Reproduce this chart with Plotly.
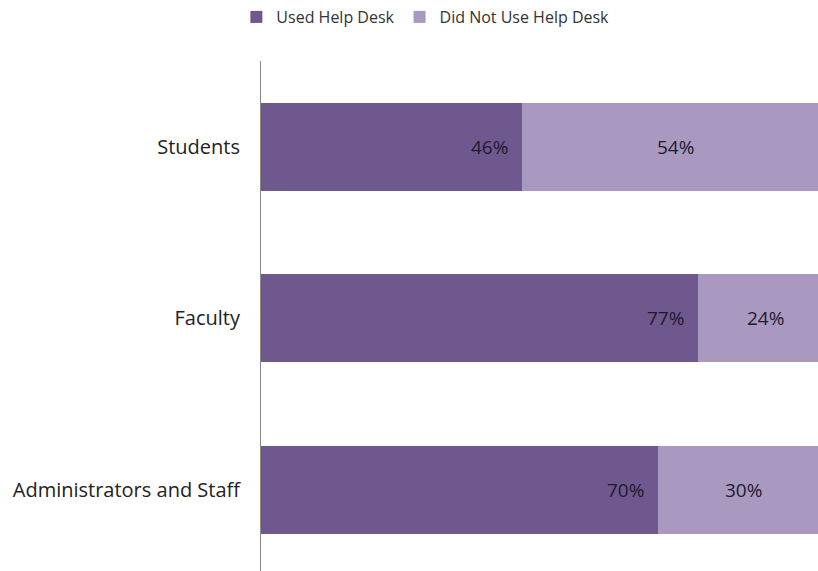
import plotly.graph_objects as go

categories = ["Students", "Faculty", "Administrators and Staff"]
used = [46, 77, 70]
not_used = [54, 24, 30]
series_names = ["Used Help Desk", "Did Not Use Help Desk"]

dark = "#6f588e"
light = "#a999c0"
font_family = "Open Sans, Noto Sans, sans-serif"
label_font = dict(family=font_family, size=19, color="#1e1a2e")

fig = go.Figure()
fig.add_trace(go.Bar(
    y=categories, x=used, name=series_names[0], orientation="h",
    marker=dict(color=dark, line=dict(width=0)),
    hoverinfo="x+y",
))
fig.add_trace(go.Bar(
    y=categories, x=not_used, name=series_names[1], orientation="h",
    marker=dict(color=light, line=dict(width=0)),
    hoverinfo="x+y",
))

for c, v in zip(categories, used):
    fig.add_annotation(x=v, y=c, text=f"{v}%", showarrow=False,
                       xanchor="right", xshift=-12, font=label_font)
for c, u, v in zip(categories, used, not_used):
    fig.add_annotation(x=u + v / 2, y=c, text=f"{v}%", showarrow=False,
                       xanchor="center", font=label_font)

fig.update_layout(
    width=818, height=571,
    barmode="stack", bargap=0.485,
    margin=dict(l=261, r=0, t=61, b=0),
    paper_bgcolor="white", plot_bgcolor="white",
    showlegend=True,
    legend=dict(orientation="h", xref="container", yref="container",
                x=0.52, xanchor="center", y=1.0, yanchor="top",
                font=dict(family=font_family, size=16, color="#333333"),
                traceorder="normal", itemwidth=30),
    xaxis=dict(range=[0, 98.2], showgrid=False, zeroline=False,
               showticklabels=False, showline=False, fixedrange=True),
    yaxis=dict(categoryorder="array", categoryarray=categories[::-1],
               range=[-0.474, 2.5], showgrid=False, zeroline=False,
               showline=True, linecolor="#888888", linewidth=1,
               ticks="", ticklabelstandoff=16,
               tickfont=dict(family=font_family, size=20, color="#222222")),
    font=dict(family=font_family),
)

fig.write_html("out.html")
